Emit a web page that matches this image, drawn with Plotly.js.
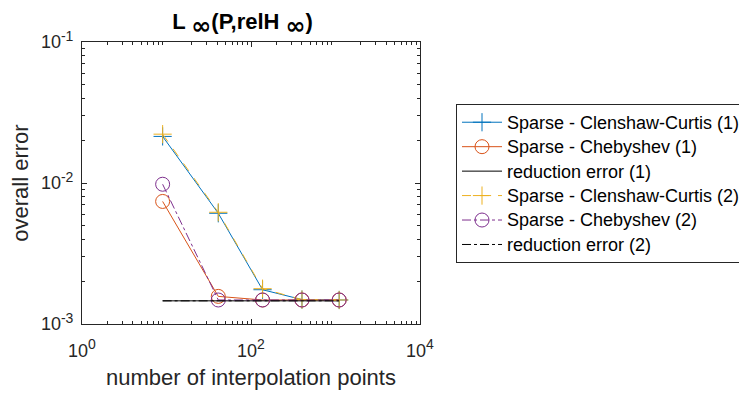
<!DOCTYPE html>
<html>
<head>
<meta charset="utf-8">
<script src="https://cdn.plot.ly/plotly-3.0.1.min.js"></script>
<style>html,body{margin:0;padding:0;background:#fff;}#chart{width:739px;height:396px;}</style>
</head>
<body>
<div id="chart"></div>
<script>
const points = [9, 41, 137, 401, 1105];
const ccErr1 = [0.0214, 0.0061, 0.00175, 0.00149, 0.00148];
const chebErr1 = [0.0074, 0.00157, 0.00148, 0.00148, 0.00148];
const redErr1 = [0.00146, 0.00146, 0.00146, 0.00146, 0.00146];
const ccErr2 = [0.0222, 0.0062, 0.00178, 0.00149, 0.00148];
const chebErr2 = [0.0098, 0.00148, 0.00148, 0.00148, 0.00148];
const redErr2 = [0.00146, 0.00146, 0.00146, 0.00146, 0.00146];
const names = ['Sparse - Clenshaw-Curtis (1)', 'Sparse - Chebyshev (1)', 'reduction error (1)',
               'Sparse - Clenshaw-Curtis (2)', 'Sparse - Chebyshev (2)', 'reduction error (2)'];
const xTickVals = [1, 100, 10000];
const xTickExp = ['0', '2', '4'];
const yTickVals = [0.001, 0.01, 0.1];
const yTickExp = ['-3', '-2', '-1'];
const xMinorVals = [2,3,4,5,6,7,8,9,20,30,40,50,60,70,80,90,200,300,400,500,600,700,800,900,2000,3000,4000,5000,6000,7000,8000,9000];
const yMinorVals = [0.002,0.003,0.004,0.005,0.006,0.007,0.008,0.009,0.02,0.03,0.04,0.05,0.06,0.07,0.08,0.09];

const FONT = 'Liberation Sans, Arial, Helvetica, sans-serif';
const axisColor = '#262626';
const supLabel = e => '10<sup><span style="font-size:14px">' + e + '</span></sup>';
const legendName = n => '<span style="font-size:18px">' + n + '</span>';

function tr(y, name, color, dash, symbol, msize) {
  const t = {
    x: points, y: y, name: legendName(name), type: 'scatter',
    mode: symbol ? 'lines+markers' : 'lines',
    line: {color: color, width: 1, dash: dash}
  };
  if (symbol) t.marker = {symbol: symbol, size: msize, color: color, line: {color: color, width: 1}};
  return t;
}

const data = [
  tr(ccErr1, names[0], '#0072BD', 'solid', 'cross-thin-open', 13),
  tr(chebErr1, names[1], '#D95319', 'solid', 'circle-open', 14),
  tr(redErr1, names[2], '#000000', 'solid', null, 0),
  tr(ccErr2, names[3], '#EDB120', 'dash', 'cross-thin-open', 13),
  tr(chebErr2, names[4], '#7E2F8E', 'dashdot', 'circle-open', 14),
  tr(redErr2, names[5], '#000000', 'dashdot', null, 0)
];

const inf = '<sub><span style="font-family:DejaVu Sans;font-size:24px">∞</span></sub>';
const titleText = '<b>L ' + inf + '(P,relH ' + inf + ')</b>';

const layout = {
  width: 739, height: 396,
  margin: {l: 82, r: 319, t: 42, b: 72},
  paper_bgcolor: '#fff', plot_bgcolor: '#fff',
  font: {family: FONT, color: axisColor, size: 16},
  showlegend: true,
  title: {text: titleText, x: 0.475, xref: 'paper', xanchor: 'center',
          y: 0.945, yref: 'container', yanchor: 'middle', font: {family: FONT, size: 22, color: '#000'}},
  xaxis: {
    type: 'log', range: [0, 4],
    tickvals: xTickVals, ticktext: xTickExp.map(supLabel),
    ticks: 'inside', ticklen: 5, tickcolor: axisColor, tickwidth: 1,
    ticklabelstandoff: 10,
    minor: {tickvals: xMinorVals, ticks: 'inside', ticklen: 3, tickcolor: axisColor, tickwidth: 1, showgrid: false},
    showline: true, linecolor: axisColor, linewidth: 1, mirror: 'allticks',
    showgrid: false, zeroline: false,
    tickfont: {size: 18, family: FONT, color: axisColor},
    title: {text: 'number of interpolation points', font: {size: 22, family: FONT, color: axisColor}, standoff: 10}
  },
  yaxis: {
    type: 'log', range: [-3, -1],
    tickvals: yTickVals, ticktext: yTickExp.map(supLabel),
    ticks: 'inside', ticklen: 5, tickcolor: axisColor, tickwidth: 1,
    ticklabelstandoff: 4,
    minor: {tickvals: yMinorVals, ticks: 'inside', ticklen: 3, tickcolor: axisColor, tickwidth: 1, showgrid: false},
    showline: true, linecolor: axisColor, linewidth: 1, mirror: 'allticks',
    showgrid: false, zeroline: false,
    tickfont: {size: 18, family: FONT, color: axisColor},
    title: {text: 'overall error', font: {size: 22, family: FONT, color: axisColor}, standoff: 6}
  },
  legend: {
    xref: 'container', yref: 'container',
    x: 456 / 739, y: 1 - 104 / 396, xanchor: 'left', yanchor: 'top',
    bordercolor: axisColor, borderwidth: 1, bgcolor: '#fff',
    font: {size: 16.5, family: FONT, color: '#000'},
    itemwidth: 40, tracegroupgap: 0
  }
};

Plotly.newPlot('chart', data, layout, {displayModeBar: false, staticPlot: true});
</script>
</body>
</html>
